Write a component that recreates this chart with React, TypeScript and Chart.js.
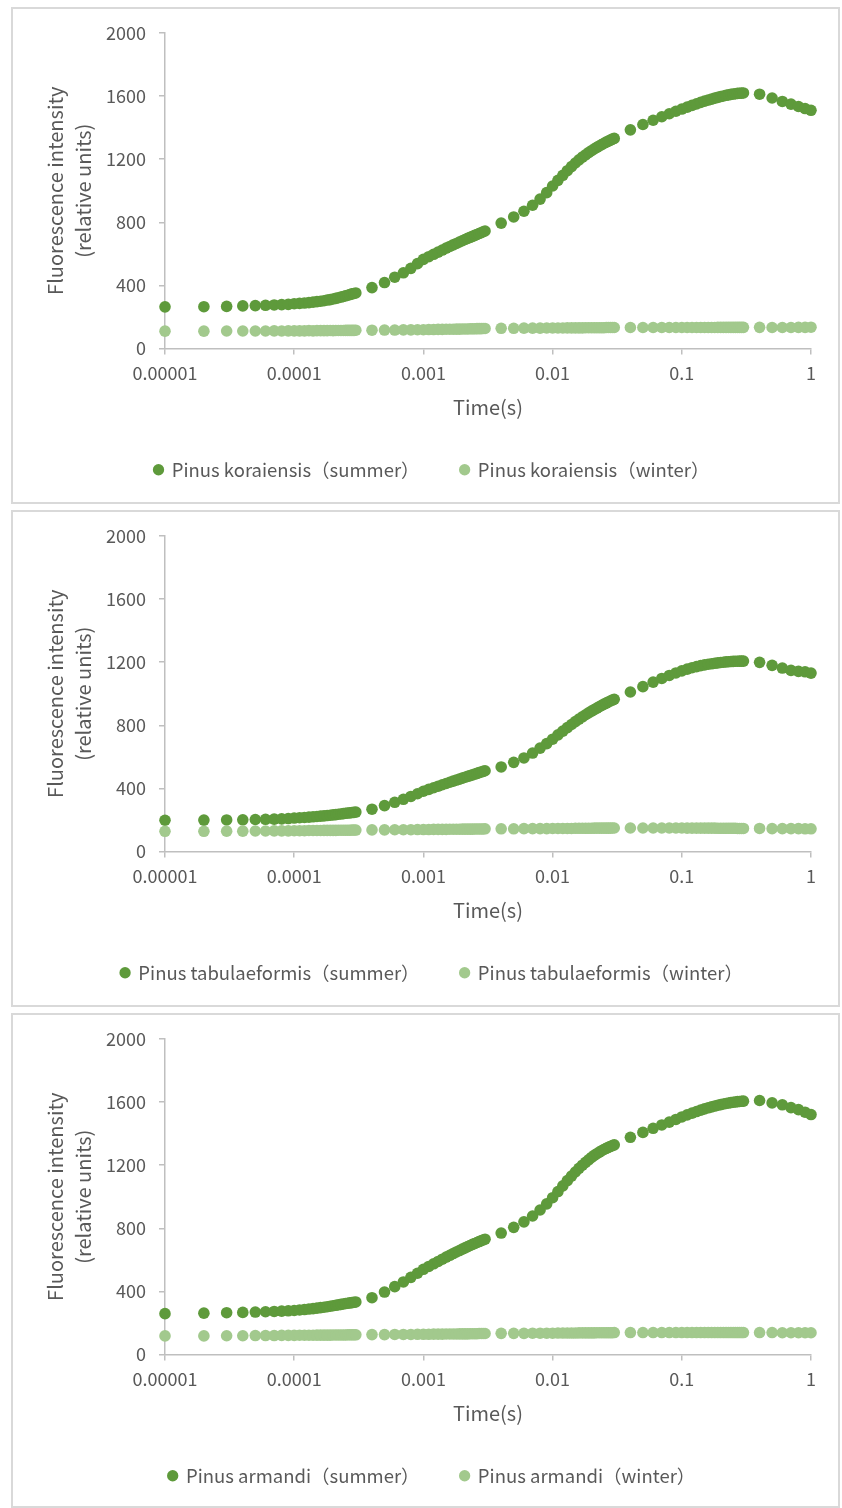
import React, { useEffect, useRef } from 'react';
import { Chart, registerables } from 'chart.js';

Chart.register(...registerables);

// Time points (s)
const timeSec = [
  0.00001, 0.00002, 0.00003, 0.00004, 0.00005, 0.00006, 0.00007, 0.00008, 0.00009, 0.0001,
  0.00011, 0.00012, 0.00013, 0.00014, 0.00015, 0.00016, 0.00017, 0.00018, 0.00019, 0.0002,
  0.00021, 0.00022, 0.00023, 0.00024, 0.00025, 0.00026, 0.00027, 0.00028, 0.00029, 0.0003,
  0.0004, 0.0005, 0.0006, 0.0007, 0.0008, 0.0009, 0.001, 0.0011, 0.0012, 0.0013,
  0.0014, 0.0015, 0.0016, 0.0017, 0.0018, 0.0019, 0.002, 0.0021, 0.0022, 0.0023,
  0.0024, 0.0025, 0.0026, 0.0027, 0.0028, 0.0029, 0.003,
  0.004, 0.005, 0.006, 0.007, 0.008, 0.009, 0.01, 0.011, 0.012, 0.013,
  0.014, 0.015, 0.016, 0.017, 0.018, 0.019, 0.02, 0.021, 0.022, 0.023,
  0.024, 0.025, 0.026, 0.027, 0.028, 0.029, 0.03,
  0.04, 0.05, 0.06, 0.07, 0.08, 0.09, 0.1, 0.11, 0.12, 0.13,
  0.14, 0.15, 0.16, 0.17, 0.18, 0.19, 0.2, 0.21, 0.22, 0.23,
  0.24, 0.25, 0.26, 0.27, 0.28, 0.29, 0.3,
  0.4, 0.5, 0.6, 0.7, 0.8, 0.9, 1,
];

const koraiensisSummer = [
  264, 265, 267, 270, 272, 274, 276, 278, 280, 284,
  286, 288, 291, 294, 297, 300, 303, 307, 310, 314,
  318, 322, 326, 330, 334, 338, 342, 346, 349, 352,
  386, 418, 452, 480, 508, 538, 565, 582, 597, 611,
  624, 636, 647, 657, 666, 675, 683, 691, 698, 705,
  711, 717, 723, 729, 734, 740, 745,
  795, 834, 870, 908, 947, 988, 1030, 1066, 1098, 1127,
  1153, 1176, 1196, 1213, 1228, 1242, 1254, 1265, 1275, 1284,
  1293, 1301, 1308, 1315, 1321, 1327, 1332,
  1386, 1420, 1447, 1469, 1488, 1504, 1518, 1530, 1541, 1551,
  1560, 1568, 1575, 1581, 1587, 1592, 1597, 1601, 1605, 1608,
  1611, 1613, 1615, 1617, 1618, 1619, 1620,
  1612, 1588, 1566, 1549, 1534, 1521, 1510,
];

const koraiensisWinter = [
  110, 110, 111, 111, 111, 111, 112, 111, 112, 112,
  112, 112, 113, 112, 113, 113, 113, 113, 114, 113,
  114, 114, 114, 114, 115, 115, 115, 115, 115, 116,
  116, 117, 117, 118, 118, 119, 119, 120, 120, 121,
  121, 122, 122, 122, 123, 123, 124, 124, 124, 125,
  125, 125, 126, 126, 126, 127, 127,
  128, 128, 129, 129, 129, 130, 130, 130, 130, 131,
  131, 131, 131, 131, 132, 132, 132, 132, 132, 132,
  132, 132, 133, 133, 133, 133, 133,
  133, 133, 133, 133, 133, 133, 133, 133, 133, 133,
  133, 133, 133, 133, 133, 134, 134, 134, 134, 134,
  134, 134, 134, 134, 134, 134, 134,
  134, 133, 133, 133, 134, 134, 135,
];

const tabulaeformisSummer = [
  198, 199, 200, 201, 203, 204, 205, 207, 209, 212,
  214, 216, 218, 220, 222, 224, 226, 228, 230, 232,
  234, 236, 238, 240, 242, 244, 245, 247, 248, 250,
  268, 291, 312, 331, 349, 366, 382, 394, 404, 414,
  423, 431, 439, 446, 453, 459, 465, 471, 476, 481,
  486, 491, 495, 500, 504, 508, 512,
  536, 565, 593, 624, 655, 684, 712, 739, 763, 785,
  805, 823, 839, 854, 867, 879, 890, 900, 909, 918,
  926, 934, 941, 948, 954, 960, 965,
  1011, 1045, 1074, 1097, 1116, 1132, 1145, 1156, 1165, 1172,
  1178, 1183, 1187, 1190, 1193, 1196, 1198, 1200, 1202, 1203,
  1204, 1205, 1206, 1206, 1207, 1207, 1207,
  1199, 1180, 1163, 1148, 1142, 1139, 1131,
];

const tabulaeformisWinter = [
  128, 128, 129, 129, 130, 130, 131, 131, 131, 132,
  132, 132, 133, 133, 133, 133, 134, 134, 134, 134,
  134, 135, 135, 135, 135, 135, 135, 136, 136, 136,
  137, 137, 138, 138, 138, 139, 139, 139, 140, 140,
  140, 140, 141, 141, 141, 141, 142, 142, 142, 142,
  142, 143, 143, 143, 143, 143, 144,
  144, 144, 145, 145, 145, 145, 146, 146, 146, 146,
  146, 147, 147, 147, 147, 147, 147, 148, 148, 148,
  148, 148, 148, 148, 148, 149, 149,
  149, 149, 149, 149, 149, 149, 149, 148, 148, 148,
  148, 148, 148, 148, 148, 147, 147, 147, 147, 147,
  147, 147, 147, 146, 146, 146, 146,
  146, 145, 145, 145, 145, 144, 144,
];

const armandiSummer = [
  259, 262, 265, 267, 269, 271, 273, 275, 277, 279,
  282, 285, 288, 291, 294, 297, 300, 303, 306, 309,
  312, 315, 318, 320, 323, 325, 327, 329, 331, 333,
  360, 396, 430, 460, 489, 515, 540, 558, 575, 590,
  604, 617, 629, 640, 650, 659, 668, 676, 684, 691,
  698, 704, 710, 716, 721, 726, 731,
  770, 806, 841, 878, 916, 955, 994, 1033, 1069, 1102,
  1131, 1157, 1180, 1200, 1218, 1234, 1249, 1262, 1273, 1283,
  1292, 1300, 1307, 1313, 1319, 1324, 1329,
  1377, 1408, 1434, 1455, 1473, 1490, 1506, 1519, 1530, 1540,
  1549, 1557, 1564, 1570, 1575, 1580, 1584, 1588, 1591, 1594,
  1597, 1599, 1601, 1603, 1604, 1605, 1606,
  1610, 1595, 1583, 1565, 1552, 1536, 1521,
];

const armandiWinter = [
  118, 118, 119, 119, 120, 120, 120, 121, 121, 121,
  122, 122, 122, 122, 123, 123, 123, 123, 123, 124,
  124, 124, 124, 124, 124, 125, 125, 125, 125, 125,
  126, 126, 127, 127, 127, 128, 128, 128, 129, 129,
  129, 130, 130, 130, 130, 131, 131, 131, 131, 132,
  132, 132, 132, 133, 133, 133, 133,
  134, 134, 134, 135, 135, 135, 135, 136, 136, 136,
  136, 136, 137, 137, 137, 137, 137, 137, 138, 138,
  138, 138, 138, 138, 138, 138, 139,
  139, 139, 139, 139, 139, 139, 139, 139, 139, 139,
  139, 139, 139, 139, 139, 139, 139, 139, 139, 139,
  139, 139, 139, 139, 139, 139, 139,
  139, 139, 138, 138, 138, 138, 138,
];

const xTickValues = [0.00001, 0.0001, 0.001, 0.01, 0.1, 1];
const xTickLabels = ['0.00001', '0.0001', '0.001', '0.01', '0.1', '1'];
const yTickStep = 400;
const xTitle = 'Time(s)';
const yTitle = ['Fluorescence intensity', '(relative units)'];

const panels = [
  { top: 7, height: 497, summerLabel: 'Pinus koraiensis（summer）', winterLabel: 'Pinus koraiensis（winter）', summer: koraiensisSummer, winter: koraiensisWinter },
  { top: 510, height: 497, summerLabel: 'Pinus tabulaeformis（summer）', winterLabel: 'Pinus tabulaeformis（winter）', summer: tabulaeformisSummer, winter: tabulaeformisWinter },
  { top: 1013, height: 495, summerLabel: 'Pinus armandi（summer）', winterLabel: 'Pinus armandi（winter）', summer: armandiSummer, winter: armandiWinter },
];

const FONT = '"Noto Sans CJK SC", "Open Sans", sans-serif';
const TEXT = '#595959';
const AXIS = '#BFBFBF';
const SUMMER = '#5E9A3B';
const WINTER = '#A2C98D';

const legendShift = {
  id: 'legendShift',
  afterLayout: (c: any) => {
    if (c.legend) {
      c.legend.left += 20;
      c.legend.right += 20;
    }
  },
};

function Panel({ top, height, summerLabel, winterLabel, summer, winter }: any) {
  const ref = useRef<HTMLCanvasElement>(null);
  useEffect(() => {
    const font = { family: FONT, size: 18 };
    const titleFont = { family: FONT, size: 20 };
    const chart = new Chart(ref.current as HTMLCanvasElement, {
      type: 'scatter',
      data: {
        datasets: [
          {
            label: summerLabel,
            data: timeSec.map((t, i) => ({ x: t, y: summer[i] })),
            backgroundColor: SUMMER,
            borderColor: SUMMER,
            borderWidth: 0,
            pointRadius: 5.8,
            clip: false,
            order: 2,
          },
          {
            label: winterLabel,
            data: timeSec.map((t, i) => ({ x: t, y: winter[i] })),
            backgroundColor: WINTER,
            borderColor: WINTER,
            borderWidth: 0,
            pointRadius: 5.8,
            clip: false,
            order: 1,
          },
        ],
      },
      options: {
        animation: false,
        responsive: false,
        devicePixelRatio: 1,
        layout: { padding: { left: 0, right: 27, top: 24, bottom: 13 } },
        plugins: {
          legend: {
            position: 'bottom',
            labels: {
              usePointStyle: true,
              pointStyle: 'circle',
              boxWidth: 8,
              boxHeight: 8,
              padding: 41,
              color: TEXT,
              font: { family: FONT, size: 18.5 },
              sort: (a: any, b: any) => a.datasetIndex - b.datasetIndex,
            },
          },
          tooltip: { enabled: false },
        },
        scales: {
          x: {
            type: 'logarithmic',
            min: 0.00001,
            max: 1,
            afterBuildTicks: (s: any) => {
              s.ticks = xTickValues.map((v) => ({ value: v, major: true }));
            },
            afterFit: (s: any) => {
              s.height = 71;
            },
            ticks: {
              callback: (_v: any, i: number) => xTickLabels[i],
              color: TEXT,
              font,
              padding: 8,
              autoSkip: false,
              maxRotation: 0,
            },
            grid: { drawOnChartArea: false, drawTicks: true, tickLength: 6, color: AXIS, lineWidth: 1.5 },
            border: { display: true, color: AXIS, width: 1.5 },
            title: { display: true, text: xTitle, color: TEXT, font: titleFont, padding: 0 },
          },
          y: {
            min: 0,
            max: 2000,
            afterFit: (s: any) => {
              s.width = 152;
            },
            ticks: { stepSize: yTickStep, color: TEXT, font, padding: 13, callback: (v: any) => String(v) },
            grid: { drawOnChartArea: false, drawTicks: true, tickLength: 6, color: AXIS, lineWidth: 1.5 },
            border: { display: true, color: AXIS, width: 1.5 },
            title: {
              display: true,
              text: yTitle,
              color: TEXT,
              font: { family: FONT, size: 20, lineHeight: 1.4 },
              padding: { top: 28, bottom: 0 },
            },
          },
        },
      },
      plugins: [legendShift],
    } as any);
    return () => chart.destroy();
  }, []);
  return (
    <div
      style={{
        position: 'absolute',
        left: 11,
        top,
        width: 829,
        height,
        border: '2px solid #D9D9D9',
        boxSizing: 'border-box',
        overflow: 'hidden',
        background: '#fff',
      }}
    >
      <canvas ref={ref} width={825} height={493} style={{ display: 'block' }} />
    </div>
  );
}

export default function App() {
  return (
    <div>
      {panels.map((p, i) => (
        <Panel key={i} {...p} />
      ))}
    </div>
  );
}
